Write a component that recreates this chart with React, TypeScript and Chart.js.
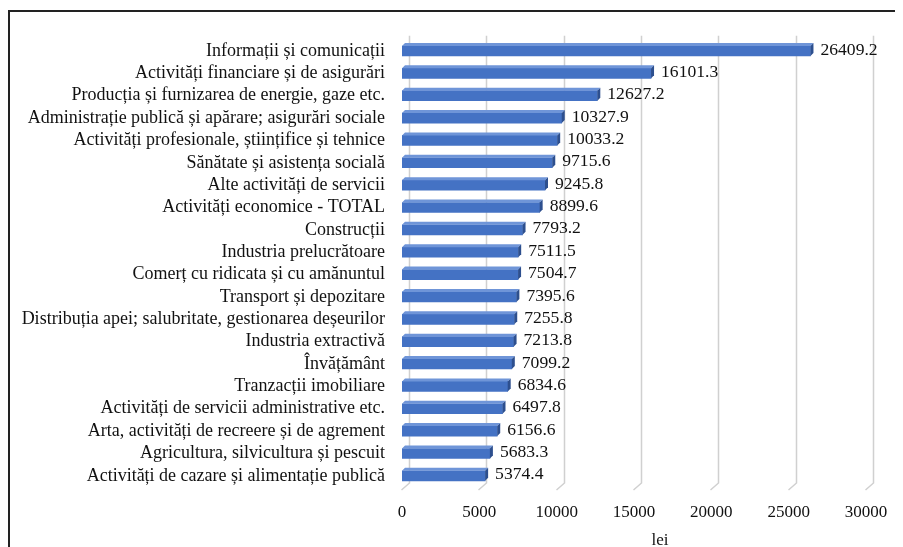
import React, { useEffect, useRef } from "react";
import { Chart, registerables } from "chart.js";

Chart.register(...registerables);

const categories: string[] = [
  "Informații și comunicații",
  "Activități financiare și de asigurări",
  "Producția și furnizarea de energie, gaze etc.",
  "Administrație publică și apărare; asigurări sociale",
  "Activități profesionale, științifice și tehnice",
  "Sănătate și asistența socială",
  "Alte activități de servicii",
  "Activități economice - TOTAL",
  "Construcții",
  "Industria prelucrătoare",
  "Comerț cu ridicata și cu amănuntul",
  "Transport și depozitare",
  "Distribuția apei; salubritate, gestionarea deșeurilor",
  "Industria extractivă",
  "Învățământ",
  "Tranzacții imobiliare",
  "Activități de servicii administrative etc.",
  "Arta, activități de recreere și de agrement",
  "Agricultura, silvicultura și pescuit",
  "Activități de cazare și alimentație publică",
];

const values: number[] = [
  26409.2, 16101.3, 12627.2, 10327.9, 10033.2, 9715.6, 9245.8, 8899.6, 7793.2,
  7511.5, 7504.7, 7395.6, 7255.8, 7213.8, 7099.2, 6834.6, 6497.8, 6156.6,
  5683.3, 5374.4,
];

const xTicks: number[] = [0, 5000, 10000, 15000, 20000, 25000, 30000];
const axisTitle = "lei";

const FONT = "'Liberation Serif', 'Times New Roman', serif";
const DEPTH = 3;

const floorGridPlugin = {
  id: "floorGrid",
  beforeDatasetsDraw(chart: any) {
    const { ctx, chartArea } = chart;
    const xs = chart.scales.x;
    ctx.save();
    ctx.strokeStyle = "#D0D0D0";
    ctx.lineWidth = 1.5;
    xTicks.forEach((v) => {
      const x = Math.round(xs.getPixelForValue(v)) + 0.5;
      ctx.beginPath();
      ctx.moveTo(x + 7, chartArea.top - 4);
      ctx.lineTo(x + 7, chartArea.bottom - 4);
      ctx.lineTo(x - 1, chartArea.bottom + 3);
      ctx.stroke();
    });
    ctx.restore();
  },
};

const bar3dPlugin = {
  id: "bar3d",
  afterDatasetsDraw(chart: any) {
    const { ctx } = chart;
    const meta = chart.getDatasetMeta(0);
    ctx.save();
    meta.data.forEach((bar: any, i: number) => {
      const { x, y, base, height } = bar.getProps(["x", "y", "base", "height"], true);
      const top = y - height / 2;
      const bottom = y + height / 2;
      // top face
      ctx.fillStyle = "#6F95D8";
      ctx.beginPath();
      ctx.moveTo(base, top);
      ctx.lineTo(x, top);
      ctx.lineTo(x + DEPTH, top - DEPTH);
      ctx.lineTo(base + DEPTH, top - DEPTH);
      ctx.closePath();
      ctx.fill();
      // right face
      ctx.fillStyle = "#2D4F8E";
      ctx.beginPath();
      ctx.moveTo(x, top);
      ctx.lineTo(x + DEPTH, top - DEPTH);
      ctx.lineTo(x + DEPTH, bottom - DEPTH);
      ctx.lineTo(x, bottom);
      ctx.closePath();
      ctx.fill();
      // label
      ctx.fillStyle = "#111";
      ctx.font = `17.6px ${FONT}`;
      ctx.textAlign = "left";
      ctx.textBaseline = "middle";
      ctx.fillText(String(values[i]), x + 10, y - 1);
    });
    // axis title
    ctx.fillStyle = "#111";
    ctx.font = `17px ${FONT}`;
    ctx.textAlign = "center";
    ctx.textBaseline = "middle";
    const ca = chart.chartArea;
    ctx.fillText(axisTitle, (ca.left + ca.right) / 2 + 26, ca.bottom + 54);
    ctx.restore();
  },
};

export default function App() {
  const ref = useRef<HTMLCanvasElement | null>(null);

  useEffect(() => {
    document.body.style.overflow = "hidden";
    if (!ref.current) return;
    const chart = new Chart(ref.current, {
      type: "bar",
      data: {
        labels: categories,
        datasets: [
          {
            data: values,
            backgroundColor: "#4472C4",
            borderWidth: 0,
            barThickness: 10,
          },
        ],
      },
      options: {
        indexAxis: "y",
        animation: false,
        responsive: false,
        maintainAspectRatio: false,
        layout: { padding: { top: 27, right: 37, left: 0, bottom: 0 } },
        plugins: {
          legend: { display: false },
          tooltip: { enabled: false },
        },
        scales: {
          x: {
            min: 0,
            max: 30000,
            afterBuildTicks: (scale: any) => {
              scale.ticks = xTicks.map((v) => ({ value: v }));
            },
            afterFit: (scale: any) => {
              scale.height = 60;
            },
            grid: { display: false },
            border: { display: false },
            ticks: {
              padding: 7,
              color: "#111",
              font: { family: FONT, size: 17 },
              callback: (v: any) => String(v),
              maxRotation: 0,
            },
          },
          y: {
            afterFit: (scale: any) => {
              scale.width = 392;
            },
            grid: { display: false, drawTicks: false },
            border: { display: false },
            ticks: {
              padding: 17,
              color: "#111",
              font: { family: FONT, size: 18 },
              autoSkip: false,
            },
          },
        },
      },
      plugins: [floorGridPlugin, bar3dPlugin],
    });
    return () => chart.destroy();
  }, []);

  return (
    <div
      style={{
        marginTop: 2,
        width: 895,
        height: 537,
        borderTop: "2px solid #222",
        borderLeft: "2px solid #222",
        boxSizing: "border-box",
        background: "#fff",
      }}
    >
      <canvas ref={ref} width={893} height={535} style={{ display: "block" }} />
    </div>
  );
}
